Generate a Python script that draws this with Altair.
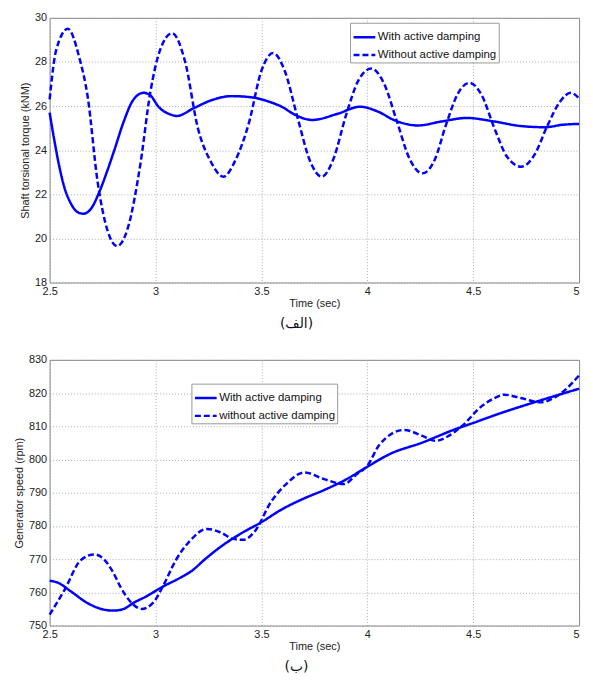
import altair as alt
import pandas as pd

FONT = "Liberation Sans"
BLUE = "#0000ff"

# ---- Panel (الف): shaft torsional torque ----
top_with_t = [2.50, 2.523, 2.547, 2.570, 2.601, 2.632, 2.66, 2.695, 2.734, 2.772, 2.804, 2.85,
              2.889, 2.91, 2.944, 2.975, 3.014, 3.076, 3.10, 3.18, 3.26, 3.36, 3.45, 3.55,
              3.60, 3.65, 3.74, 3.86, 3.965, 4.05, 4.13, 4.24, 4.35, 4.47, 4.60, 4.72, 4.84,
              4.92, 5.00]
top_with_v = [25.7, 24.4, 23.2, 22.3, 21.57, 21.19, 21.12, 21.34, 22.09, 23.06, 23.96, 25.3,
              26.19, 26.45, 26.6, 26.49, 25.97, 25.6, 25.55, 25.9, 26.25, 26.45, 26.4, 26.15,
              25.95, 25.65, 25.37, 25.65, 25.97, 25.75, 25.35, 25.12, 25.3, 25.46, 25.3, 25.1, 25.04,
              25.15, 25.19]

top_without_t = [2.50, 2.53, 2.586, 2.64, 2.68, 2.726, 2.772, 2.819, 2.87, 2.929, 2.975, 3.02,
                 3.078, 3.14, 3.20, 3.26, 3.32, 3.38, 3.44, 3.50, 3.555, 3.61, 3.67, 3.73,
                 3.785, 3.84, 3.90, 3.96, 4.019, 4.08, 4.14, 4.20, 4.26, 4.32, 4.37, 4.43,
                 4.483, 4.54, 4.60, 4.66, 4.727, 4.79, 4.85, 4.91, 4.961, 5.00]
top_without_v = [26.3, 28.5, 29.5, 28.2, 26.4, 22.6, 20.4, 19.65, 20.5, 23.4, 26.6, 28.5,
                 29.3, 28.0, 25.0, 23.5, 22.8, 23.6, 25.2, 27.6, 28.4, 27.6, 25.5, 23.5,
                 22.8, 23.6, 25.6, 27.2, 27.7, 27.0, 25.3, 23.6, 22.95, 23.6, 25.1, 26.6,
                 27.05, 26.5, 25.0, 23.7, 23.25, 23.8, 25.1, 26.2, 26.6, 26.35]

# ---- Panel (ب): generator speed ----
bot_with_t = [2.50, 2.539, 2.60, 2.678, 2.756, 2.802, 2.849, 2.895, 2.957, 3.034, 3.117, 3.174,
              3.227, 3.305, 3.414, 3.50, 3.586, 3.695, 3.796, 3.90, 4.00, 4.105, 4.26, 4.415,
              4.50, 4.632, 4.818, 5.00]
bot_with_v = [763.5, 762.9, 760.3, 756.8, 754.8, 754.5, 755.0, 756.8, 758.8, 761.7, 764.4, 766.6,
              769.6, 773.6, 778.1, 781.1, 784.6, 788.1, 790.8, 794.0, 797.8, 801.6, 805.1, 809.1,
              811.0, 814.0, 817.8, 821.3]

bot_without_t = [2.50, 2.57, 2.647, 2.711, 2.756, 2.80, 2.833, 2.887, 2.934, 2.988, 3.034, 3.096,
                 3.164, 3.242, 3.305, 3.367, 3.414, 3.477, 3.539, 3.617, 3.703, 3.796, 3.889,
                 3.951, 4.00, 4.059, 4.175, 4.26, 4.322, 4.384, 4.446, 4.539, 4.601, 4.647,
                 4.725, 4.818, 4.88, 4.926, 5.00]
bot_without_v = [753.3, 760.7, 769.7, 771.4, 770.0, 766.0, 761.8, 756.8, 755.0, 756.8, 761.7, 769.7,
                 775.6, 779.1, 778.1, 776.1, 775.8, 779.1, 786.6, 792.6, 796.1, 794.1, 792.6,
                 795.6, 798.1, 804.6, 808.9, 807.1, 805.6, 807.1, 810.0, 816.0, 818.5, 819.5,
                 818.5, 817.2, 818.5, 820.5, 825.3]

x_ticks = [2.5, 3, 3.5, 4, 4.5, 5]
top_y_ticks = [18, 20, 22, 24, 26, 28, 30]
bot_y_ticks = [750, 760, 770, 780, 790, 800, 810, 820, 830]

top_names = ["With active damping", "Without active damping"]
bot_names = ["With active damping", "without active damping"]


def frame(tw, vw, tn, vn, names):
    a = pd.DataFrame({"t": tw, "v": vw, "series": names[0]})
    b = pd.DataFrame({"t": tn, "v": vn, "series": names[1]})
    return pd.concat([a, b], ignore_index=True)


def panel(df, names, ydom, yticks, ytitle, caption, lx, ly, w, h, ytitlepad):
    return (
        alt.Chart(df)
        .mark_line(interpolate="monotone", strokeWidth=2.5, color=BLUE)
        .encode(
            x=alt.X("t:Q", scale=alt.Scale(domain=[2.5, 5], nice=False),
                    axis=alt.Axis(values=x_ticks, format="~g", title="Time (sec)",
                                  titlePadding=1,
                                  labelAlign={"condition": {"test": "datum.value >= 5",
                                                            "value": "right"},
                                              "value": "center"})),
            y=alt.Y("v:Q", scale=alt.Scale(domain=ydom, nice=False),
                    axis=alt.Axis(values=yticks, title=ytitle, titlePadding=ytitlepad)),
            strokeDash=alt.StrokeDash(
                "series:N",
                scale=alt.Scale(domain=names, range=[[1, 0], [6, 3]]),
                legend=alt.Legend(
                    orient="none", legendX=lx, legendY=ly, title=None,
                    symbolType="stroke", symbolSize=480, symbolStrokeWidth=2.5,
                    symbolStrokeColor=BLUE, labelFont=FONT, labelFontSize=11.5,
                    labelColor="#111", labelOffset=1, strokeColor="#999",
                    fillColor="white", padding=2, rowPadding=-8,
                ),
            ),
            order=alt.Order("t:Q"),
        )
        .properties(
            width=w, height=h,
            title=alt.TitleParams(caption, orient="bottom", font="DejaVu Sans",
                                  fontSize=14, fontWeight="normal", color="#111",
                                  offset=9, dx=-18),
        )
    )


top = panel(frame(top_with_t, top_with_v, top_without_t, top_without_v, top_names),
            top_names, [18, 30], top_y_ticks, "Shaft torsional torque (kNM)", "(الف)",
            303, 5, 534, 267, 4)
bot = panel(frame(bot_with_t, bot_with_v, bot_without_t, bot_without_v, bot_names),
            bot_names, [750, 830], bot_y_ticks, "Generator speed (rpm)", "(ب)",
            143, 24, 534, 268, 4)

chart = (
    alt.vconcat(top, bot, spacing=21)
    .resolve_scale(strokeDash="independent", x="independent", y="independent")
    .resolve_legend(strokeDash="independent")
    .properties(padding={"left": 5, "top": 0, "right": 0, "bottom": 0})
    .configure_view(stroke="#888", strokeWidth=1)
    .configure_axis(
        labelFont=FONT, labelFontSize=11, labelColor="#222",
        titleFont=FONT, titleFontSize=11, titleFontWeight="normal", titleColor="#222",
        ticks=False, labelPadding=3, domain=False,
        grid=True, gridDash=[1, 2], gridColor="#999", gridWidth=0.8,
    )
    .configure_title(font="DejaVu Sans")
)

chart.save("out.html", embed_options={"renderer": "svg", "actions": False})
